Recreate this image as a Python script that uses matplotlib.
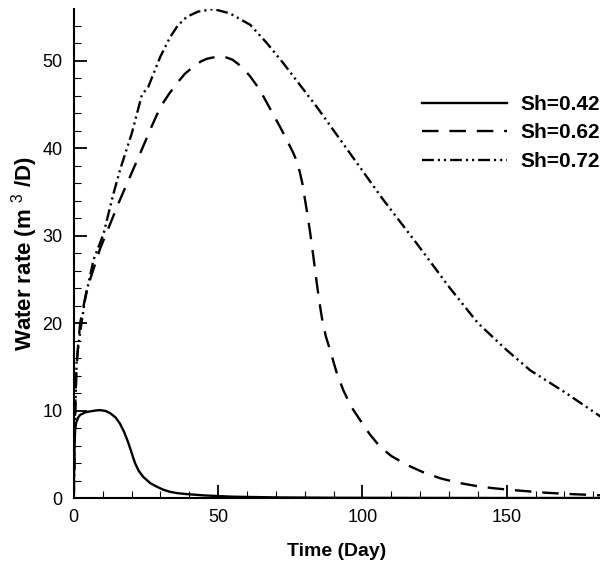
import matplotlib
matplotlib.use('Agg')
import matplotlib.pyplot as plt
from matplotlib.ticker import MultipleLocator

plt.rcParams['font.family'] = ['Liberation Sans', 'DejaVu Sans']
plt.rcParams['mathtext.fontset'] = 'custom'
plt.rcParams['mathtext.rm'] = 'Liberation Sans'

# Sh=0.42 (solid)
t_042 = [0, 0.15, 0.4, 0.8, 1.5, 2.2, 4, 5.6, 7.5, 9, 11, 12.6, 14.5, 16, 17.5, 18.9, 20,
         21.2, 22.5, 24.1, 26.5, 28.7, 31, 33.4, 36, 39, 45, 55, 70, 90, 120, 150, 183]
q_042 = [0, 4.5, 7.6, 8.6, 9.2, 9.5, 9.8, 9.9, 10.0, 10.05, 9.95, 9.7, 9.2, 8.5, 7.5, 6.3, 5.2,
         4.0, 3.1, 2.4, 1.7, 1.3, 0.95, 0.7, 0.55, 0.45, 0.3, 0.15, 0.07, 0.03, 0.01, 0.0, 0.0]

# Sh=0.62 (dashed)
t_062 = [0, 0.3, 0.8, 1.5, 2.2, 4.5, 9.1, 16, 23, 27, 30, 33, 35.7, 38.5, 41.4, 44, 46, 48,
         49.5, 51, 53, 55, 57, 59, 61.1, 63.5, 65.7, 68.5, 71.5, 74, 76.1, 77.5, 78.4, 79.3,
         80.1, 81, 81.9, 83, 84, 85, 86, 87.3, 88.8, 91, 93.4, 96, 99.2, 102.5, 106, 110,
         115.3, 121, 127, 133, 140.7, 146, 152.3, 158, 163.8, 172, 183]
q_062 = [0, 8, 14, 17.5, 20, 23.8, 28.5, 34.1, 39.4, 42.5, 44.7, 46.2, 47.4, 48.5, 49.3,
         49.9, 50.2, 50.35, 50.4, 50.4, 50.35, 50.1, 49.6, 49.0, 48.2, 47.1, 45.9, 44.2,
         42.4, 40.8, 39.4, 38.3, 37.1, 35.8, 34.1, 32.3, 30.3, 27.6, 25, 22.6, 20.5, 18.5,
         16.9, 14.4, 12.3, 10.5, 8.9, 7.3, 5.9, 4.8, 3.8, 2.95, 2.25, 1.75, 1.3, 1.1, 0.9,
         0.75, 0.6, 0.45, 0.3]

# Sh=0.72 (dash-dot-dot)
t_072 = [0, 0.3, 0.6, 1.0, 2, 2.8, 3.9, 6.8, 10.3, 13.5, 16, 20.1, 23.6, 25.8, 29.9, 33.4,
         36, 39.1, 43, 48.4, 54.1, 61.1, 66.9, 72.6, 84.2, 95.7, 107.2, 118.8, 130.3, 140,
         150, 158.1, 169.6, 183]
q_072 = [0, 6, 11, 15.8, 18.5, 20.3, 22.7, 27.2, 30.2, 34.5, 37.5, 41.7, 46.1, 47.0, 50.4,
         52.7, 54.0, 55.0, 55.6, 55.9, 55.4, 54.1, 52.0, 49.7, 44.7, 39.4, 34.1, 29.1, 24.0,
         20.0, 16.9, 14.6, 12.2, 9.2]

labels = ['Sh=0.42', 'Sh=0.62', 'Sh=0.72']

fig = plt.figure(figsize=(6, 5.64), dpi=100)
ax = fig.add_axes([0.123, 0.117, 0.877, 0.867])

lw = 1.7
ax.plot(t_042, q_042, color='black', lw=lw, label=labels[0])
ax.plot(t_062, q_062, color='black', lw=lw, dashes=(7, 4.6), label=labels[1])
ax.plot(t_072, q_072, color='black', lw=lw, dashes=(5.0, 1.7, 0.9, 1.7, 0.9, 1.7), label=labels[2])

ax.set_xlim(0, 182.3)
ax.set_ylim(0, 55.9)
ax.xaxis.set_major_locator(MultipleLocator(50))
ax.xaxis.set_minor_locator(MultipleLocator(10))
ax.yaxis.set_major_locator(MultipleLocator(10))
ax.yaxis.set_minor_locator(MultipleLocator(2))

for s in ['top', 'right']:
    ax.spines[s].set_visible(False)
for s in ['left', 'bottom']:
    ax.spines[s].set_linewidth(1.5)

ax.tick_params(which='major', direction='in', length=9.5, width=1.3, labelsize=13, pad=8)
ax.tick_params(which='minor', direction='in', length=5, width=0.8)

ax.set_xlabel('Time (Day)', fontsize=14, fontweight='bold', labelpad=12)
ax.set_ylabel(r'Water rate (m $^{3}$ /D)', fontsize=16, fontweight='bold', labelpad=2)

ax.legend(loc='upper right', bbox_to_anchor=(1.0, 0.824), frameon=False,
          prop={'weight': 'bold', 'size': 15}, handlelength=4.1, handletextpad=0.62,
          labelspacing=0.45, borderpad=0, borderaxespad=0)

fig.savefig('out.png', dpi=100)
